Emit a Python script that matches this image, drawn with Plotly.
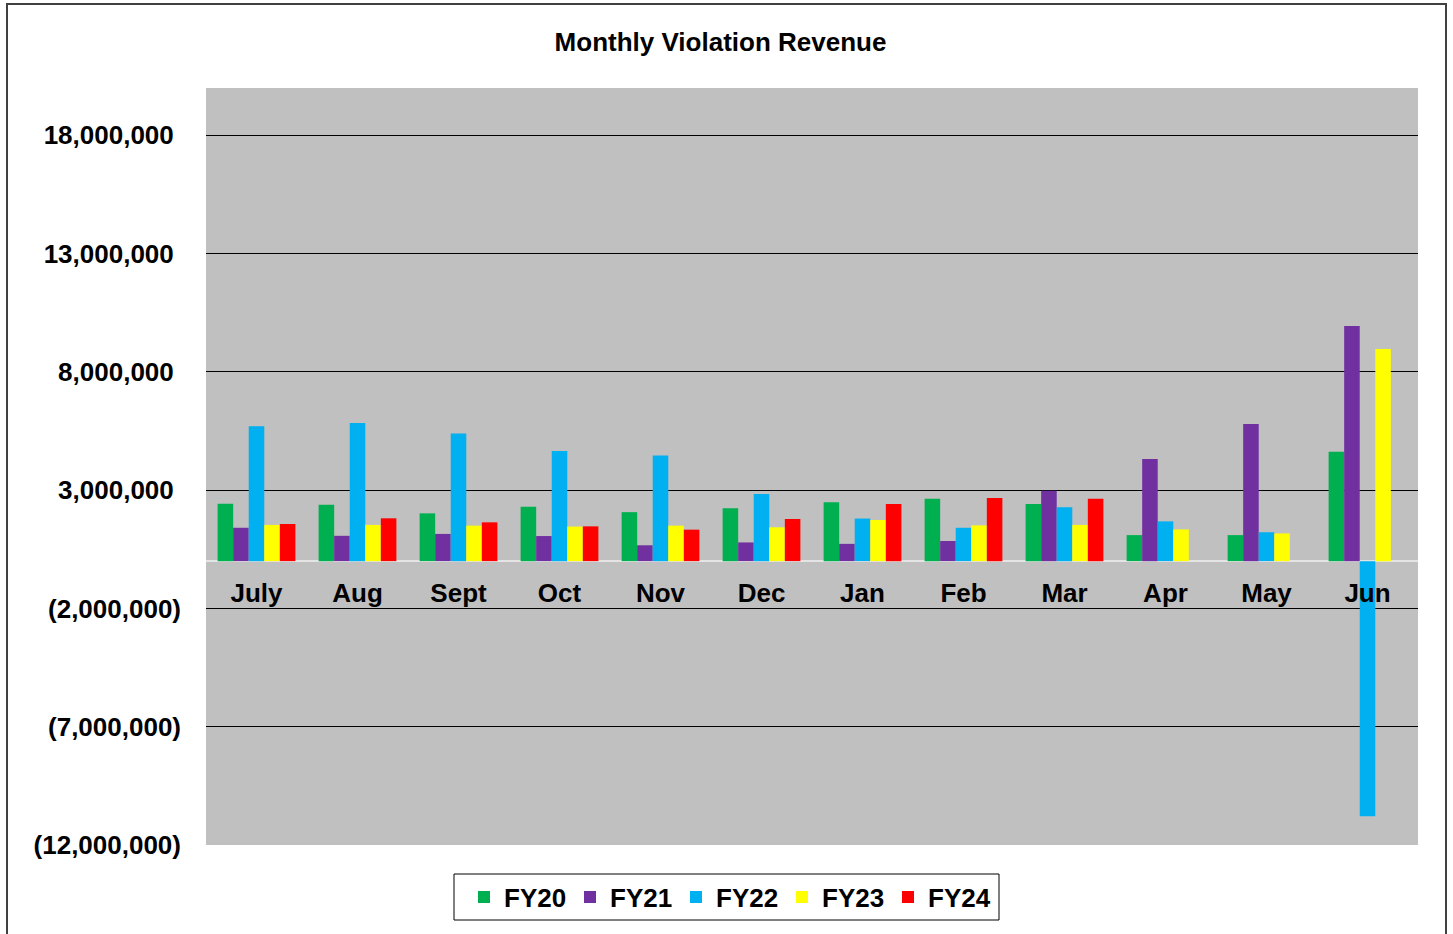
import plotly.graph_objects as go

months = ["July", "Aug", "Sept", "Oct", "Nov", "Dec", "Jan", "Feb", "Mar", "Apr", "May", "Jun"]

fy20 = [2430000, 2380000, 2020000, 2300000, 2070000, 2240000, 2490000, 2640000, 2420000, 1100000, 1100000, 4620000]
fy21 = [1410000, 1070000, 1150000, 1060000, 670000, 790000, 730000, 850000, 2980000, 4320000, 5800000, 9940000]
fy22 = [5700000, 5840000, 5400000, 4650000, 4470000, 2840000, 1800000, 1410000, 2280000, 1680000, 1220000, -10780000]
fy23 = [1530000, 1530000, 1500000, 1460000, 1500000, 1430000, 1740000, 1510000, 1530000, 1340000, 1170000, 8970000]
fy24 = [1570000, 1810000, 1640000, 1470000, 1330000, 1780000, 2420000, 2670000, 2640000, None, None, None]

series_names = ["FY20", "FY21", "FY22", "FY23", "FY24"]
series_values = [fy20, fy21, fy22, fy23, fy24]
series_colors = ["#00B050", "#7030A0", "#00B0F0", "#FFFF00", "#FF0000"]

tick_vals = [-12000000, -7000000, -2000000, 3000000, 8000000, 13000000, 18000000]
tick_text = ["(12,000,000)", "(7,000,000)", "(2,000,000)",
             "3,000,000\u2008", "8,000,000\u2008", "13,000,000\u2008", "18,000,000\u2008"]

FONT = "Liberation Sans, Arial, sans-serif"
FS = 26

W, H = 1453, 934
L, R, T, B = 206, 35, 88, 89
PW, PH = W - L - R, H - T - B


def px_x(x):
    return (x - L) / PW


def px_y(y):
    return (H - B - y) / PH


fig = go.Figure()
for name, vals, col in zip(series_names, series_values, series_colors):
    fig.add_trace(go.Bar(
        x=months, y=vals, name=name,
        marker=dict(color=col, line=dict(width=0)),
    ))

fig.update_layout(
    width=W, height=H,
    margin=dict(l=L, r=R, t=T, b=B),
    paper_bgcolor="white",
    plot_bgcolor="#C0C0C0",
    barmode="group",
    bargap=0.23,
    bargroupgap=0,
    font=dict(family=FONT, color="black"),
    title=dict(
        text="<b>Monthly Violation Revenue</b>",
        x=720.5 / W, xanchor="center", xref="container",
        y=1 - 42 / H, yanchor="middle", yref="container",
        font=dict(size=FS, family=FONT, color="black"),
    ),
    showlegend=True,
    legend=dict(
        orientation="h",
        x=px_x(464), xanchor="left",
        y=px_y(897), yanchor="middle",
        bgcolor="rgba(0,0,0,0)",
        borderwidth=0,
        font=dict(size=FS, family=FONT, color="black", weight="bold"),
        entrywidth=61,
        itemwidth=30,
        traceorder="normal",
    ),
    xaxis=dict(
        anchor="free",
        position=0.375,
        showgrid=False,
        showline=False,
        ticks="",
        tickfont=dict(size=FS, family=FONT, color="black", weight="bold"),
        ticklabelstandoff=14,
    ),
    yaxis=dict(
        range=[-12000000, 20000000],
        tickvals=tick_vals,
        ticktext=tick_text,
        showgrid=True,
        gridcolor="black",
        gridwidth=1,
        zeroline=True,
        zerolinecolor="#E4E4E4",
        zerolinewidth=2,
        ticks="",
        tickfont=dict(size=FS, family=FONT, color="black", weight="bold"),
        ticklabelstandoff=24,
    ),
)

# legend frame
fig.add_shape(
    type="rect", xref="paper", yref="paper",
    x0=px_x(454), x1=px_x(999), y0=px_y(920), y1=px_y(874),
    line=dict(color="black", width=1), fillcolor="white",
    layer="below",
)

# outer chart border
fig.add_shape(
    type="rect", xref="paper", yref="paper",
    x0=px_x(7), x1=px_x(1446), y0=px_y(945), y1=px_y(4),
    line=dict(color="#404040", width=2), fillcolor="rgba(0,0,0,0)",
    layer="below",
)

fig.write_html("out.html", config={"displayModeBar": False},
               post_script="document.body.style.margin='0px';")
